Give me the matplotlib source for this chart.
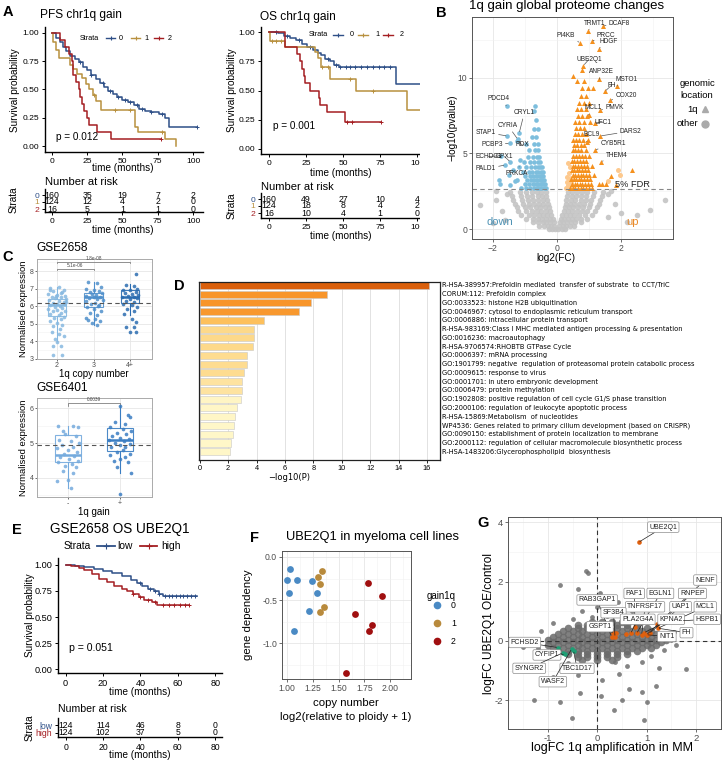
import numpy as np
import matplotlib
matplotlib.use("Agg")
import matplotlib.pyplot as plt
from matplotlib.lines import Line2D
from matplotlib.patches import Rectangle
from matplotlib.ticker import FormatStrFormatter, MultipleLocator

plt.rcParams['font.family'] = ['Liberation Sans', 'DejaVu Sans']

# ======================= DATA =======================
# --- Panel A: PFS chr1q gain (Kaplan-Meier step points) ---
pfs_t0 = [0, 3, 6, 8, 10, 13, 16, 19, 22, 25, 28, 31, 34, 37, 40, 43, 46, 50, 54, 58, 62, 66, 70, 76, 80, 83, 103]
pfs_s0 = [1.0, 0.96, 0.92, 0.88, 0.84, 0.80, 0.77, 0.74, 0.70, 0.67, 0.63, 0.59, 0.56, 0.52, 0.49, 0.46, 0.43, 0.41, 0.39, 0.36, 0.33, 0.31, 0.30, 0.28, 0.25, 0.17, 0.17]
pfs_t1 = [0, 1, 3, 5, 13, 15, 18, 21, 24, 26, 29, 31, 35, 59, 61, 80, 88]
pfs_s1 = [1.0, 0.92, 0.85, 0.78, 0.72, 0.68, 0.64, 0.60, 0.55, 0.50, 0.45, 0.40, 0.32, 0.17, 0.12, 0.06, 0.0]
pfs_t2 = [0, 6, 9, 12, 14, 15, 17, 19, 20, 21, 23, 25, 26, 32, 42, 77]
pfs_s2 = [1.0, 0.9375, 0.875, 0.8125, 0.75, 0.625, 0.5625, 0.5, 0.4375, 0.375, 0.3125, 0.25, 0.1875, 0.125, 0.0625, 0.0625]
pfs_c0 = [20, 28, 36, 41, 47, 52, 55, 60, 64, 70, 78, 103]
pfs_c1 = [30, 45, 55, 78]
pfs_c2 = [77]
pfs_risk0 = [160, 35, 19, 7, 2]
pfs_risk1 = [124, 12, 4, 2, 0]
pfs_risk2 = [16, 5, 1, 1, 0]
pfs_p = "p = 0.012"

# --- Panel A: OS chr1q gain ---
os_t0 = [0, 6, 10, 14, 18, 22, 26, 30, 33, 35, 38, 41, 44, 47, 86, 105]
os_s0 = [1.0, 0.99, 0.97, 0.95, 0.93, 0.90, 0.87, 0.85, 0.82, 0.80, 0.77, 0.75, 0.72, 0.70, 0.557, 0.557]
os_t1 = [0, 1, 11, 31, 33, 35, 41, 59, 93, 105]
os_s1 = [1.0, 0.92, 0.875, 0.83, 0.78, 0.70, 0.60, 0.50, 0.33, 0.33]
os_t2 = [0, 10.5, 19, 21, 22, 23.4, 24.5, 27.8, 33.5, 34.6, 39, 51.4, 76]
os_s2 = [1.0, 0.875, 0.8125, 0.75, 0.6875, 0.625, 0.5625, 0.5, 0.4375, 0.375, 0.3125, 0.234, 0.234]
os_c0 = [5, 12, 20, 28, 40, 45, 48, 52, 55, 58, 62, 66, 70, 74, 78, 82, 105]
os_c1 = [2, 5, 8, 36, 40, 55, 70]
os_c2 = [53, 56, 76]
os_risk0 = [160, 49, 27, 10, 4]
os_risk1 = [124, 18, 8, 4, 2]
os_risk2 = [16, 10, 4, 1, 0]
os_p = "p = 0.001"
strata_labels = ['0', '1', '2']
km_ticks = [0, 25, 50, 75, 100]

# --- Panel B: volcano (log2FC, -log10 p) ---
vol_gray_rows = {
    0.05: [-0.25, -0.15, -0.05, 0.05, 0.15, 0.25],
    0.25: [-0.55, -0.4, -0.28, -0.18, -0.08, 0.08, 0.18, 0.28, 0.4, 0.55],
    0.45: [-0.75, -0.58, -0.44, -0.32, -0.2, -0.1, 0.1, 0.2, 0.32, 0.44, 0.58, 0.75],
    0.7: [-0.95, -0.75, -0.6, -0.46, -0.34, -0.22, -0.12, 0.12, 0.22, 0.34, 0.46, 0.6, 0.75, 0.95],
    0.95: [-1.1, -0.88, -0.7, -0.55, -0.42, -0.3, -0.17, 0.17, 0.3, 0.42, 0.55, 0.7, 0.88, 1.1],
    1.2: [-1.2, -0.95, -0.78, -0.62, -0.48, -0.35, -0.22, 0.22, 0.35, 0.48, 0.62, 0.78, 0.95, 1.2],
    1.45: [-1.25, -1.0, -0.82, -0.66, -0.52, -0.38, -0.25, 0.25, 0.38, 0.52, 0.66, 0.82, 1.0, 1.25],
    1.7: [-1.3, -1.05, -0.86, -0.7, -0.55, -0.42, -0.28, 0.28, 0.42, 0.55, 0.7, 0.86, 1.05, 1.3],
    1.95: [-1.35, -1.08, -0.9, -0.74, -0.58, -0.44, -0.3, 0.3, 0.44, 0.58, 0.74, 0.9, 1.08, 1.35],
    2.2: [-1.4, -1.12, -0.92, -0.76, -0.6, -0.46, -0.32, 0.32, 0.46, 0.6, 0.76, 0.92, 1.12, 1.4],
    2.45: [-1.45, -1.15, -0.95, -0.78, -0.62, -0.48, -0.34, 0.34, 0.48, 0.62, 0.78, 0.95, 1.15, 1.45],
}
vol_gray_extra_x = [-2.4, -1.9, -1.7, -1.6, -2.0, -1.55, 1.6, 1.8, 2.0, 2.5, 3.37, 2.2, 1.6, 1.7, 2.9, -1.9]
vol_gray_extra_y = [1.6, 1.9, 1.2, 0.6, 0.4, 2.3, 2.3, 1.7, 1.1, 0.95, 1.93, 0.5, 0.8, 2.5, 1.3, 2.5]
vol_blue_rows = {
    2.75: [-1.1, -0.95, -0.82, -0.72, -0.63, -0.55, -0.48, -0.41, -0.35],
    3.0: [-1.0, -0.86, -0.75, -0.66, -0.58, -0.5, -0.43, -0.37],
    3.25: [-1.25, -0.92, -0.8, -0.7, -0.61, -0.53, -0.46, -0.4],
    3.5: [-0.98, -0.84, -0.73, -0.64, -0.56, -0.48, -0.42],
    3.8: [-1.05, -0.88, -0.76, -0.66, -0.57, -0.5, -0.44],
    4.1: [-0.95, -0.8, -0.68, -0.59, -0.51, -0.46],
    4.45: [-1.02, -0.84, -0.7, -0.6, -0.52],
    4.8: [-0.9, -0.74, -0.62, -0.54],
    5.2: [-0.85, -0.68, -0.57],
    5.6: [-0.95, -0.72, -0.6],
    6.1: [-0.78, -0.64],
    6.6: [-0.7, -0.58],
    7.2: [-0.66],
    7.8: [-0.7],
    8.15: [-0.67],
}
vol_blue_extra_x = [-1.77, -1.8, -1.5, -1.35, -1.3, -1.15, -1.45]
vol_blue_extra_y = [2.97, 3.25, 3.6, 3.9, 3.2, 4.6, 2.9]
vol_tri_rows = {
    2.75: [0.42, 0.5, 0.58, 0.66, 0.74, 0.82, 0.9, 1.0, 1.1],
    3.0: [0.48, 0.56, 0.64, 0.72, 0.8, 0.88, 0.97, 1.08, 1.3, 1.42, 1.52],
    3.3: [0.45, 0.53, 0.61, 0.69, 0.77, 0.85, 0.94, 1.05],
    3.6: [0.5, 0.58, 0.66, 0.74, 0.82, 0.9, 1.0, 1.15],
    3.9: [0.46, 0.54, 0.62, 0.7, 0.78, 0.87, 0.96],
    4.2: [0.5, 0.58, 0.66, 0.75, 0.84, 0.94, 1.1],
    4.5: [0.47, 0.55, 0.64, 0.73, 0.82, 0.92],
    4.85: [0.52, 0.6, 0.69, 0.78, 0.88, 1.0],
    5.2: [0.5, 0.58, 0.67, 0.77, 0.9],
    5.55: [0.55, 0.64, 0.74, 0.86],
    5.9: [0.5, 0.6, 0.7, 0.82, 0.98],
    6.3: [0.56, 0.67, 0.79, 0.92],
    6.7: [0.6, 0.72, 0.85],
    7.1: [0.58, 0.7, 0.84, 1.02],
    7.5: [0.66, 0.8, 0.93],
    7.9: [0.62, 0.76, 0.9],
    8.3: [0.7, 0.85, 1.0],
    8.8: [0.74, 0.9],
    9.3: [0.8, 0.96, 1.12],
    9.8: [0.62, 0.86],
    10.1: [0.52],
    10.5: [0.78],
}
vol_tri_extra_x = [2.34, 1.7, 1.85]
vol_tri_extra_y = [3.91, 3.5, 2.9]
vol_circ_x = [0.3, 0.34, 0.38, 0.33, 0.4, 0.44, 0.37, 0.42, 0.35, 0.45, 0.32, 1.92, 1.98, 1.6, 0.48, 0.36]
vol_circ_y = [2.75, 2.95, 3.2, 3.45, 2.85, 3.05, 3.7, 4.1, 4.4, 3.4, 3.1, 3.9, 3.55, 3.2, 2.7, 2.7]
up_genes = ['TRMT1', 'DCAF8', 'PI4KB', 'PRCC', 'HDGF', 'UBE2Q1', 'ANP32E', 'MSTO1', 'FH', 'COX20',
            'MCL1', 'PMVK', 'UFC1', 'DARS2', 'BCL9', 'CYB5R1', 'THEM4']
up_x = [0.97, 1.43, 0.73, 1.09, 1.30, 0.83, 1.33, 1.87, 1.5, 1.66, 0.99, 1.35, 1.19, 1.35, 0.93, 1.19, 1.38]
up_y = [13.1, 13.4, 12.3, 12.4, 11.9, 10.8, 9.9, 9.45, 9.1, 8.5, 7.54, 7.87, 7.03, 6.15, 5.78, 5.23, 4.46]
down_genes = ['PDCD4', 'CRYL1', 'CYRIA', 'STAP1', 'PCBP3', 'RDX', 'ECHDC1', 'GPX1', 'PALD1', 'PRKCA']
down_x = [-1.54, -1.17, -1.22, -1.54, -1.47, -1.25, -1.75, -1.45, -1.61, -1.17]
down_y = [8.1, 6.35, 5.95, 6.15, 5.67, 5.85, 4.85, 4.45, 4.24, 4.13]
fdr_line = 2.64

# --- Panel C: GSE2658 by 1q copy number ---
c1_groups = ['2', '3', '4+']
c1_g2_dx = [-0.2, 0.05, 0.2, -0.1, 0.15, -0.25, 0.0, 0.22, -0.15, 0.1, -0.05, 0.25, -0.22, 0.05, 0.18, -0.12, 0.0, 0.2, -0.2, 0.08, -0.05, 0.15, -0.25, 0.0, 0.22, -0.1, 0.1, -0.18, 0.05, 0.2, -0.08, 0.12, -0.2, 0.0, 0.15, -0.1, 0.08, -0.15, 0.05, 0.18, -0.05, 0.0, -0.12, 0.1, -0.1, 0.15, -0.2, 0.12, -0.02, 0.24]
c1_g2_y = [7.05, 7.1, 6.95, 6.85, 6.8, 6.7, 6.65, 6.6, 6.55, 6.5, 6.45, 6.4, 6.35, 6.3, 6.25, 6.2, 6.15, 6.1, 6.05, 6.0, 5.95, 5.9, 5.85, 5.8, 5.75, 5.7, 5.6, 5.55, 5.5, 5.4, 5.35, 5.25, 5.15, 5.05, 4.95, 4.85, 4.7, 4.55, 4.4, 4.3, 4.15, 3.95, 3.75, 3.7, 3.2, 3.2, 6.9, 6.75, 6.58, 6.22]
c1_g3_dx = [-0.15, 0.1, 0.2, -0.2, 0.0, 0.15, -0.1, 0.22, -0.05, 0.08, -0.2, 0.18, 0.0, -0.12, 0.1, 0.25, -0.22, 0.05, -0.08, 0.15, -0.18, 0.02, 0.2, -0.1, 0.1, -0.2, 0.05, 0.18, -0.05, 0.1, -0.15, 0.12]
c1_g3_y = [7.4, 7.3, 7.1, 7.0, 6.95, 6.85, 6.8, 6.75, 6.7, 6.65, 6.6, 6.55, 6.5, 6.45, 6.4, 6.35, 6.3, 6.2, 6.1, 6.05, 5.95, 5.85, 5.75, 5.6, 5.5, 5.35, 5.25, 5.15, 5.05, 4.95, 5.2, 6.0]
c1_g4_dx = [0.15, -0.1, 0.1, 0.2, -0.2, 0.0, 0.15, -0.15, 0.05, 0.22, -0.05, 0.1, -0.22, 0.18, 0.0, -0.12, 0.12, -0.2, 0.05, 0.2, -0.08, 0.1, -0.18, 0.05, 0.15, -0.1, 0.1, 0.0, 0.15]
c1_g4_y = [7.85, 7.2, 7.15, 7.0, 6.95, 6.9, 6.8, 6.75, 6.7, 6.65, 6.6, 6.55, 6.5, 6.45, 6.4, 6.3, 6.25, 6.15, 6.05, 5.95, 5.85, 5.7, 5.55, 5.25, 5.1, 4.8, 4.8, 4.5, 4.5]
c1_q1 = [5.45, 5.97, 6.2]
c1_med = [6.05, 6.5, 6.55]
c1_q3 = [6.43, 6.77, 6.9]
c1_lo = [4.0, 4.95, 5.5]
c1_hi = [7.1, 7.4, 7.25]
c1_ref = 6.2
c1_pvals = ['5.1e-06', '1.8e-08']

# --- Panel C: GSE6401 by 1q gain ---
c2_groups = ['-', '+']
c2_neg_dx = [-0.2, 0.1, 0.2, -0.1, -0.05, 0.15, -0.18, 0.05, 0.22, -0.12, 0.1, -0.22, 0.0, 0.18, -0.08, 0.12, -0.15, 0.02, 0.2, -0.2, 0.08, -0.05, 0.15, -0.1, 0.1, -0.22, 0.0, 0.05]
c2_neg_y = [5.5, 5.5, 5.45, 5.35, 5.25, 5.2, 5.1, 5.05, 5.0, 4.95, 4.9, 4.85, 4.8, 4.75, 4.7, 4.62, 4.6, 4.55, 4.5, 4.45, 4.4, 4.35, 4.3, 4.2, 4.15, 3.9, 3.95, 3.7]
c2_pos_dx = [0.0, 0.15, 0.2, -0.1, 0.1, -0.2, 0.05, 0.22, -0.05, 0.12, -0.15, 0.0, 0.18, -0.22, 0.08, -0.1, 0.2, 0.0, -0.18, 0.1, 0.05, -0.05, 0.2, -0.2, 0.1, 0.0, -0.12, 0.15, 0.22, -0.05, 0.0]
c2_pos_y = [6.05, 5.8, 5.75, 5.6, 5.55, 5.45, 5.4, 5.35, 5.3, 5.25, 5.2, 5.15, 5.12, 5.1, 5.05, 5.0, 4.98, 4.95, 4.9, 4.88, 4.8, 4.75, 4.7, 4.65, 4.6, 4.55, 4.5, 4.45, 4.15, 4.3, 3.55]
c2_q1 = [4.45, 4.78]
c2_med = [4.67, 5.1]
c2_q3 = [5.22, 5.42]
c2_lo = [3.7, 4.15]
c2_hi = [5.5, 6.05]
c2_ref = 4.93
c2_pval = '0.0039'

# --- Panel D: enrichment ---
d_terms = [
    "R-HSA-389957:Prefoldin mediated  transfer of substrate  to CCT/TriC",
    "CORUM:112: Prefoldin complex",
    "GO:0033523: histone H2B ubiquitination",
    "GO:0046967: cytosol to endoplasmic reticulum transport",
    "GO:0006886: intracellular protein transport",
    "R-HSA-983169:Class I MHC mediated antigen processing & presentation",
    "GO:0016236: macroautophagy",
    "R-HSA-9706574:RHOBTB GTPase Cycle",
    "GO:0006397: mRNA processing",
    "GO:1901799: negative  regulation of proteasomal protein catabolic process",
    "GO:0009615: response to virus",
    "GO:0001701: in utero embryonic development",
    "GO:0006479: protein methylation",
    "GO:1902808: positive regulation of cell cycle G1/S phase transition",
    "GO:2000106: regulation of leukocyte apoptotic process",
    "R-HSA-15869:Metabolism  of nucleotides",
    "WP4536: Genes related to primary cilium development (based on CRISPR)",
    "GO:0090150: establishment of protein localization to membrane",
    "GO:2000112: regulation of cellular macromolecule biosynthetic process",
    "R-HSA-1483206:Glycerophospholipid  biosynthesis",
]
d_values = [16.17, 8.96, 7.84, 6.99, 4.5, 3.8, 3.8, 3.78, 3.31, 3.31, 3.12, 2.98, 2.98, 2.93, 2.65, 2.46, 2.39, 2.32, 2.18, 2.11]

# --- Panel E: GSE2658 OS UBE2Q1 ---
e_t_low = [0, 5, 10, 15, 20, 25, 30, 35, 38, 41, 44, 47, 50, 52, 70]
e_s_low = [1.0, 0.99, 0.98, 0.96, 0.94, 0.92, 0.89, 0.86, 0.83, 0.80, 0.77, 0.75, 0.72, 0.70, 0.70]
e_t_high = [0, 3, 7, 10, 14, 18, 22, 26, 30, 33, 36, 39, 42, 46, 49, 66]
e_s_high = [1.0, 0.99, 0.97, 0.95, 0.91, 0.87, 0.84, 0.80, 0.77, 0.75, 0.72, 0.69, 0.665, 0.64, 0.615, 0.615]
e_c_low = [40, 45, 48, 50, 53, 55, 57, 59, 61, 63, 65, 67, 69]
e_c_high = [36, 40, 44, 48, 52, 55, 58, 61, 64, 66]
e_risk_low = [124, 114, 46, 8, 0]
e_risk_high = [124, 102, 37, 5, 0]
e_ticks = [0, 20, 40, 60, 80]
e_p = "p = 0.051"

# --- Panel F: UBE2Q1 in myeloma cell lines ---
f_gain = [0, 0, 0, 0, 0, 0, 0, 0, 1, 1, 1, 1, 1, 2, 2, 2, 2, 2, 2]
f_cn = [1.032, 1.0, 1.097, 1.242, 1.023, 1.29, 1.216, 1.065, 1.34, 1.297, 1.32, 1.361, 1.323, 1.784, 1.92, 1.661, 1.823, 1.797, 1.574]
f_dep = [-0.137, -0.269, -0.269, -0.277, -0.423, -0.423, -0.626, -0.857, -0.16, -0.23, -0.31, -0.577, -0.638, -0.30, -0.453, -0.661, -0.784, -0.86, -1.345]

# --- Panel G: logFC OE vs logFC amplification ---
g_cloud_rows = {
    0.65: [-0.1, 0.1, 0.3, 0.5],
    0.55: [-0.4, -0.2, 0.0, 0.2, 0.4, 0.6, 0.8],
    0.45: [-0.6, -0.4, -0.2, 0.0, 0.2, 0.4, 0.6, 0.8, 1.0],
    0.35: [-0.7, -0.5, -0.3, -0.1, 0.1, 0.3, 0.5, 0.7, 0.9, 1.1],
    0.25: [-0.8, -0.6, -0.4, -0.2, 0.0, 0.2, 0.4, 0.6, 0.8, 1.0, 1.2],
    0.15: [-0.9, -0.7, -0.5, -0.3, -0.1, 0.1, 0.3, 0.5, 0.7, 0.9, 1.1, 1.3],
    0.05: [-1.0, -0.8, -0.6, -0.4, -0.2, 0.0, 0.2, 0.4, 0.6, 0.8, 1.0, 1.2, 1.4],
    -0.05: [-0.9, -0.7, -0.5, -0.3, -0.1, 0.1, 0.3, 0.5, 0.7, 0.9, 1.1, 1.3],
    -0.15: [-1.0, -0.8, -0.6, -0.4, -0.2, 0.0, 0.2, 0.4, 0.6, 0.8, 1.0, 1.2],
    -0.25: [-0.9, -0.7, -0.5, -0.3, -0.1, 0.1, 0.3, 0.5, 0.7, 0.9, 1.1],
    -0.35: [-0.8, -0.6, -0.4, -0.2, 0.0, 0.2, 0.4, 0.6, 0.8],
    -0.45: [-0.6, -0.4, -0.2, 0.0, 0.2, 0.4, 0.6],
    -0.55: [-0.4, -0.2, 0.0, 0.2, 0.4],
    -0.65: [-0.3, 0.0, 0.3],
}
g_extra_x = [-1.3, -1.2, -1.15, 1.55, 1.6, 1.5, -0.5, 0.2, 0.6, -0.2, 0.9, -0.9, 1.3, 0.0, -0.3, 0.45, -0.6, 1.1, -1.05, 0.1, 0.7, -0.1, 0.35, -0.4, 1.35,
             -0.22, -0.18, -0.76, -0.4, 0.05, -0.1, 0.42, -1.28, 0.95, -0.52, 1.80, 1.2, -1.5, -0.76, -0.35, 0.08, 1.25, 0.34, 0.65, -0.9, 1.0, -1.6, 0.9, 0.5]
g_extra_y = [0.05, -0.25, 0.35, 0.3, -0.15, 0.05, 0.75, 0.85, -0.85, -0.85, -0.7, 0.6, 0.75, 1.15, 1.0, -1.1, -0.75, -0.5, -0.5, -1.3, 1.0, 0.8, -0.7, -1.15, -0.3,
             2.36, 2.28, 1.88, 1.75, 1.6, 1.4, 1.3, -1.99, -2.65, -2.6, -0.93, -1.5, -0.2, -2.04, -1.75, -1.85, -0.9, -2.33, -1.6, -1.2, -2.05, 0.05, -1.7, -2.0]
g_up_x = [0.84, 0.29, 0.36, 0.31, 0.38, 0.585, 0.68, 0.768, 0.80, 0.90, 0.95, 1.0, 1.06, 1.21, 1.23, 1.72]
g_up_y = [3.32, 0.15, 0.15, 0.28, 0.27, 0.22, 0.26, 0.48, 0.26, 0.21, 0.28, 0.21, 0.26, 0.56, 0.43, 0.68]
g_up_genes = ['UBE2Q1', 'NENF', 'PAF1', 'EGLN1', 'RNPEP', 'RAB3GAP1', 'TNFRSF17', 'UAP1', 'MCL1', 'SF3B4',
              'PLA2G4A', 'KPNA2', 'HSPB1', 'GSPT1', 'FH', 'NIT1']
g_up_gx = [0.84, 1.21, 0.768, 0.80, 1.0, 0.29, 0.90, 1.06, 1.23, 0.36, 0.68, 0.95, 1.72, 0.31, 1.23, 1.0]
g_up_gy = [3.32, 0.56, 0.48, 0.26, 0.21, 0.15, 0.21, 0.26, 0.43, 0.15, 0.26, 0.28, 0.68, 0.28, 0.43, 0.21]
g_up_lx = [1.34, 2.19, 0.75, 1.28, 1.93, 0.0, 0.97, 1.69, 2.19, 0.33, 0.82, 1.5, 2.23, 0.055, 1.81, 1.41]
g_up_ly = [3.83, 2.05, 1.6, 1.6, 1.6, 1.38, 1.15, 1.15, 1.15, 0.95, 0.73, 0.73, 0.73, 0.48, 0.28, 0.15]
g_dn_genes = ['FCHSD2', 'CYFIP1', 'SYNGR2', 'TBC1D17', 'WASF2']
g_dn_x = [-0.80, -0.66, -0.70, -0.48, -0.52]
g_dn_y = [-0.22, -0.45, -0.40, -0.33, -0.27]
g_dn_lx = [-1.47, -1.02, -1.38, -0.41, -0.9]
g_dn_ly = [-0.05, -0.47, -0.92, -0.92, -1.37]

# ======================= STYLE =======================
KM_COLS = ['#2E4F87', '#B8913F', '#A41E22']
E_COLS = ['#2E4F87', '#A41E22']
C1_COLS = ['#86B8E0', '#4F8FCB', '#2B6CB0']
C2_COLS = ['#74AADD', '#3A7DC2']
D_COLS = ['#DA5F0B', '#F8952A', '#F8952A', '#F8982E', '#FDC05C', '#FDD98A', '#FDD98A', '#FDD98A',
          '#FEDC90', '#FEDC90', '#FEDC90', '#FEE3A0', '#FEE3A0', '#FFF5C4', '#FFF6C6', '#FFF6C6',
          '#FFF7C8', '#FFF7C8', '#FFF7C8', '#FFF7C8']
F_COLS = {0: '#4A8AC4', 1: '#B88A3C', 2: '#A00F10'}

W, H = 722, 761
fig = plt.figure(figsize=(W / 100, H / 100), dpi=100)
fig.patch.set_facecolor('white')


def add_ax(l, t, r, b):
    return fig.add_axes([l / W, 1 - b / H, (r - l) / W, (b - t) / H])


def ftext(x, y, s, **kw):
    kw.setdefault('ha', 'left')
    kw.setdefault('va', 'center')
    return fig.text(x / W, 1 - y / H, s, **kw)


def fline(xs, ys, **kw):
    fig.add_artist(Line2D([x / W for x in xs], [1 - y / H for y in ys],
                          transform=fig.transFigure, **kw))


def km_curve(ax, t, s, col, cens):
    ax.step(t, s, where='post', color=col, lw=1.1)
    ta = np.asarray(t)
    sa = np.asarray(s)
    idx = np.searchsorted(ta, cens, side='right') - 1
    ax.plot(cens, sa[idx], ls='none', marker='+', color=col, ms=3.2, mew=0.7)


def km_axes(ax, xlim, ylim, xticks, fs=6.1):
    ax.set_xlim(*xlim)
    ax.set_ylim(*ylim)
    ax.spines[['top', 'right']].set_visible(False)
    ax.spines[['left', 'bottom']].set_linewidth(1.0)
    ax.set_xticks(xticks)
    ax.set_yticks([0, 0.25, 0.5, 0.75, 1.0])
    ax.yaxis.set_major_formatter(FormatStrFormatter('%.2f'))
    ax.tick_params(labelsize=fs, length=2.5, width=0.7, pad=1.5)


def risk_axes(ax, xlim, xticks, rows_y, counts, labels, cols, fs_num=6.3, fs_tick=6.1):
    ax.set_xlim(*xlim)
    ax.set_ylim(0, 1)
    ax.spines[['top', 'right']].set_visible(False)
    ax.spines[['left', 'bottom']].set_linewidth(1.0)
    ax.set_xticks(xticks)
    ax.set_yticks(rows_y)
    ax.set_yticklabels(labels)
    for lab, c in zip(ax.get_yticklabels(), cols):
        lab.set_color(c)
    ax.tick_params(labelsize=fs_tick, length=2.5, width=0.7, pad=1.5)
    for yv, row in zip(rows_y, counts):
        for t, n in zip(xticks, row):
            ax.text(t, yv, str(n), ha='center', va='center', fontsize=fs_num)


def km_legend(y, title_x, items, fs, lw=1.0, ms=3):
    ftext(title_x, y, 'Strata', fontsize=fs, ha='center')
    for x0, x1, lx, lab, col in items:
        fline([x0, x1], [y, y], color=col, lw=lw)
        fline([(x0 + x1) / 2], [y], marker='+', color=col, ms=ms, mew=0.8, ls='none')
        ftext(lx, y, lab, fontsize=fs, ha='left')


def bw_axes(ax, fs=6.0):
    ax.set_facecolor('white')
    ax.grid(True, which='major', color='#E6E6E6', lw=0.6)
    ax.grid(True, which='minor', color='#F1F1F1', lw=0.4)
    ax.set_axisbelow(True)
    for s in ax.spines.values():
        s.set_color('#555555')
        s.set_linewidth(0.7)
    ax.tick_params(which='both', labelsize=fs, length=2, width=0.5, pad=1.5,
                   colors='#333333', labelcolor='#4D4D4D')
    ax.tick_params(which='minor', length=0)


def rows_to_xy(rows):
    xs, ys = [], []
    for yv, xl in rows.items():
        xs += xl
        ys += [yv] * len(xl)
    return xs, ys


# ======================= PANEL A: PFS =======================
axP = add_ax(45, 27, 203, 152)
km_axes(axP, (-4.96, 107.1), (-0.053, 1.053), km_ticks)
for t, s, c, cz in zip([pfs_t0, pfs_t1, pfs_t2], [pfs_s0, pfs_s1, pfs_s2], KM_COLS, [pfs_c0, pfs_c1, pfs_c2]):
    km_curve(axP, t, s, c, cz)
axP.text(3, 0.08, pfs_p, fontsize=7.2, ha='left', va='center')
ftext(40, 15, 'PFS chr1q gain', fontsize=8.6)
ftext(15, 90, 'Survival probability', fontsize=7.2, rotation=90, ha='center')
ftext(123, 168, 'time (months)', fontsize=7.2, ha='center')
km_legend(38, 89, [(106, 115, 119, '0', KM_COLS[0]), (131, 140, 144, '1', KM_COLS[1]),
                   (154, 163, 168, '2', KM_COLS[2])], fs=5.2)
ftext(45, 182, 'Number at risk', fontsize=8.0)
axPr = add_ax(45, 189, 203, 212)
risk_axes(axPr, (-4.96, 107.1), km_ticks, [0.739, 0.435, 0.13],
          [pfs_risk0, pfs_risk1, pfs_risk2], strata_labels, KM_COLS)
ftext(14, 200, 'Strata', fontsize=7.2, rotation=90, ha='center')
ftext(123, 230, 'time (months)', fontsize=7.2, ha='center')

# ======================= PANEL A: OS =======================
axO = add_ax(261, 27, 425, 154)
km_axes(axO, (-5.4, 105.4), (-0.043, 1.043), km_ticks)
for t, s, c, cz in zip([os_t0, os_t1, os_t2], [os_s0, os_s1, os_s2], KM_COLS, [os_c0, os_c1, os_c2]):
    km_curve(axO, t, s, c, cz)
axO.text(3, 0.2, os_p, fontsize=7.2, ha='left', va='center')
ftext(260, 17, 'OS chr1q gain', fontsize=8.6)
ftext(232, 90, 'Survival probability', fontsize=7.2, rotation=90, ha='center')
ftext(341, 173, 'time (months)', fontsize=7.2, ha='center')
km_legend(35, 318, [(333, 343, 350, '0', KM_COLS[0]), (358, 368, 375, '1', KM_COLS[1]),
                    (383, 393, 400, '2', KM_COLS[2])], fs=5.2)
ftext(261, 187, 'Number at risk', fontsize=8.0)
axOr = add_ax(261, 193, 425, 218)
risk_axes(axOr, (-5.4, 105.4), km_ticks, [0.76, 0.48, 0.2],
          [os_risk0, os_risk1, os_risk2], strata_labels, KM_COLS)
ftext(232, 206, 'Strata', fontsize=7.2, rotation=90, ha='center')
ftext(341, 236, 'time (months)', fontsize=7.2, ha='center')

# white mask (panel B region overlaps clipped OS plot)
fig.add_artist(Rectangle((420 / W, 1 - 245 / H), (W - 420) / W, 245 / H,
                         transform=fig.transFigure, fc='white', ec='none', zorder=1))

# ======================= PANEL B: volcano =======================
axB = add_ax(472, 17, 673, 239)
axB.set_zorder(2)
bw_axes(axB, fs=6.2)
axB.set_xlim(-2.64, 3.62)
axB.set_ylim(-0.64, 14.0)
axB.set_xticks([-2, 0, 2])
axB.set_yticks([0, 5, 10])
axB.xaxis.set_minor_locator(MultipleLocator(1))
axB.yaxis.set_minor_locator(MultipleLocator(2.5))

gx, gy = rows_to_xy(vol_gray_rows)
axB.scatter(gx + vol_gray_extra_x, gy + vol_gray_extra_y, s=16, c='#C4C4C4', lw=0, alpha=0.9)
bx, by = rows_to_xy(vol_blue_rows)
axB.scatter(bx + vol_blue_extra_x + down_x, by + vol_blue_extra_y + down_y, s=11, c='#7DBEDD', lw=0)
axB.scatter(vol_circ_x, vol_circ_y, s=13, c='#FDC98E', lw=0)
tx, ty = rows_to_xy(vol_tri_rows)
axB.scatter(tx + vol_tri_extra_x + up_x, ty + vol_tri_extra_y + up_y, s=13, c='#F5911E', marker='^', lw=0)
axB.axhline(fdr_line, color='#888888', lw=0.8, ls=(0, (4, 3)))
axB.text(2.36, 2.95, '5% FDR', fontsize=6.7, ha='center', va='center', color='#222222')
axB.text(-1.77, 0.5, 'down', fontsize=8, color='#4F93B5', ha='center', va='center')
axB.text(2.35, 0.5, 'up', fontsize=8, color='#E88A2A', ha='center', va='center')

up_lx = [1.19, 1.95, 0.28, 1.54, 1.61, 1.0, 1.40, 2.18, 1.71, 2.16, 1.14, 1.80, 1.43, 2.30, 1.09, 1.77, 1.87]
up_ly = [13.6, 13.6, 12.8, 12.8, 12.4, 11.2, 10.4, 9.9, 9.5, 8.84, 8.0, 8.0, 7.05, 6.48, 6.22, 5.63, 4.86]
dn_lx = [-1.82, -1.01, -1.52, -2.21, -2.02, -1.07, -2.13, -1.63, -2.21, -1.25]
dn_ly = [8.6, 7.69, 6.84, 6.40, 5.6, 5.56, 4.8, 4.8, 3.98, 3.69]
for g, px, py, lx, ly in zip(up_genes + down_genes, up_x + down_x, up_y + down_y, up_lx + dn_lx, up_ly + dn_ly):
    axB.annotate(g, xy=(px, py), xytext=(lx, ly), fontsize=4.7, ha='center', va='center', color='#222222',
                 arrowprops=dict(arrowstyle='-', lw=0.5, color='#555555', shrinkA=0, shrinkB=1))
ftext(567, 6, '1q gain global proteome changes', fontsize=9.5, ha='center')
ftext(556, 258, 'log2(FC)', fontsize=7.2, ha='center')
ftext(452, 128, '\u2212log10(pvalue)', fontsize=7.2, rotation=90, ha='center')
ftext(697, 84, 'genomic', fontsize=6.8, ha='center')
ftext(697, 95, 'location', fontsize=6.8, ha='center')
ftext(698, 109, '1q', fontsize=6.8, ha='right')
ftext(698, 124, 'other', fontsize=6.8, ha='right')
fline([705], [109], marker='^', color='#AAAAAA', ms=5, ls='none')
fline([705], [124], marker='o', color='#AAAAAA', ms=5, ls='none')


# ======================= PANEL C =======================
def box_panel(ax, positions, q1, med, q3, lo, hi, cols, pts, ref):
    stats = [dict(med=m, q1=a, q3=b, whislo=l, whishi=h, fliers=[]) for a, m, b, l, h in zip(q1, med, q3, lo, hi)]
    res = ax.bxp(stats, positions=positions, widths=0.5, showfliers=False, showcaps=False, patch_artist=True)
    for i, c in enumerate(cols):
        res['boxes'][i].set(facecolor='white', edgecolor=c, lw=0.8, alpha=0.9)
        res['medians'][i].set(color=c, lw=1.8)
        res['whiskers'][2 * i].set(color=c, lw=0.8)
        res['whiskers'][2 * i + 1].set(color=c, lw=0.8)
    for pos, (dx, yv), c in zip(positions, pts, cols):
        ax.scatter([pos + d for d in dx], yv, s=7, c=c, lw=0, alpha=0.85, zorder=3)
    ax.axhline(ref, color='#555555', lw=0.8, ls=(0, (4, 3)), zorder=4)


axC1 = add_ax(37, 259, 152, 359)
bw_axes(axC1, fs=5.0)
axC1.tick_params(which='major', length=1.5, pad=0.8)
for s in axC1.spines.values():
    s.set_color('#AAAAAA')
axC1.set_xlim(0.452, 3.6)
axC1.set_ylim(2.98, 8.7)
box_panel(axC1, [1, 2, 3], c1_q1, c1_med, c1_q3, c1_lo, c1_hi, C1_COLS,
          [(c1_g2_dx, c1_g2_y), (c1_g3_dx, c1_g3_y), (c1_g4_dx, c1_g4_y)], c1_ref)
axC1.set_xticks([1, 2, 3])
axC1.set_xticklabels(c1_groups)
axC1.set_yticks([3, 4, 5, 6, 7, 8])
axC1.yaxis.set_minor_locator(MultipleLocator(0.5))
axC1.plot([1, 1, 2, 2], [8.05, 8.13, 8.13, 8.05], color='#666666', lw=0.5)
axC1.text(1.5, 8.17, c1_pvals[0], fontsize=3.4, ha='center', va='bottom', color='#444444')
axC1.plot([1, 1, 3, 3], [8.45, 8.53, 8.53, 8.45], color='#666666', lw=0.5)
axC1.text(2.0, 8.56, c1_pvals[1], fontsize=3.4, ha='center', va='bottom', color='#444444')
ftext(36, 248, 'GSE2658', fontsize=8.6)
ftext(24, 309, 'Normalised expression', fontsize=6.8, rotation=90, ha='center')
ftext(94, 374, '1q copy number', fontsize=7.0, ha='center')

axC2 = add_ax(37, 398, 152, 497)
bw_axes(axC2, fs=5.0)
axC2.tick_params(which='major', length=1.5, pad=0.8)
for s in axC2.spines.values():
    s.set_color('#AAAAAA')
axC2.set_xlim(0.404, 2.615)
axC2.set_ylim(3.457, 6.286)
box_panel(axC2, [1, 2], c2_q1, c2_med, c2_q3, c2_lo, c2_hi, C2_COLS,
          [(c2_neg_dx, c2_neg_y), (c2_pos_dx, c2_pos_y)], c2_ref)
axC2.set_xticks([1, 2])
axC2.set_xticklabels(c2_groups)
axC2.set_yticks([4, 5, 6])
axC2.yaxis.set_minor_locator(MultipleLocator(0.5))
axC2.plot([1, 1, 2, 2], [6.05, 6.13, 6.13, 6.05], color='#666666', lw=0.5)
axC2.text(1.5, 6.16, c2_pval, fontsize=3.4, ha='center', va='bottom', color='#444444')
ftext(36, 388, 'GSE6401', fontsize=8.6)
ftext(24, 448, 'Normalised expression', fontsize=6.8, rotation=90, ha='center')
ftext(94, 512, '1q gain', fontsize=7.0, ha='center')

# ======================= PANEL D =======================
axD = add_ax(199, 282, 440, 460)
ypos = np.arange(len(d_values))
axD.barh(ypos, d_values, height=0.8, color=D_COLS, edgecolor='#C8C8C8', lw=0.4, zorder=2)
axD.set_xlim(-0.05, 16.92)
axD.set_ylim(19.94, -0.377)
axD.set_yticks([])
axD.set_xticks(range(0, 17, 2))
axD.grid(True, axis='x', color='#DDDDDD', lw=0.6, zorder=0)
axD.set_axisbelow(True)
for s in axD.spines.values():
    s.set_color('#222222')
    s.set_linewidth(0.9)
axD.tick_params(axis='x', labelsize=5.3, length=2, width=0.6, pad=1.5)
for i, t in enumerate(d_terms):
    axD.text(1.008, i, t, transform=axD.get_yaxis_transform(), fontsize=4.75, ha='left', va='center',
             family=['DejaVu Sans'], clip_on=False)
ftext(289, 477, '\u2212log10(P)', fontsize=6.0, ha='center', family=['DejaVu Sans'])

# ======================= PANEL E =======================
axE = add_ax(58, 558, 222, 673)
km_axes(axE, (-4.1, 83.6), (-0.038, 1.067), e_ticks, fs=6.6)
km_curve(axE, e_t_low, e_s_low, E_COLS[0], e_c_low)
km_curve(axE, e_t_high, e_s_high, E_COLS[1], e_c_high)
axE.text(2, 0.2, e_p, fontsize=7.6, ha='left', va='center')
ftext(120, 529, 'GSE2658 OS UBE2Q1', fontsize=9.8, ha='center')
km_legend(546, 77, [(97, 115, 117, 'low', E_COLS[0]), (140, 157, 161, 'high', E_COLS[1])],
          fs=7.4, lw=1.3, ms=4)
ftext(30, 615, 'Survival probability', fontsize=7.2, rotation=90, ha='center')
ftext(140, 692, 'time (months)', fontsize=7.2, ha='center')
ftext(58, 709, 'Number at risk', fontsize=7.6)
axEr = add_ax(58, 718, 222, 737)
risk_axes(axEr, (-4.1, 83.6), e_ticks, [0.63, 0.23], [e_risk_low, e_risk_high],
          ['low', 'high'], E_COLS, fs_num=6.2, fs_tick=6.2)
ftext(30, 728, 'Strata', fontsize=7.2, rotation=90, ha='center')
ftext(140, 755, 'time (months)', fontsize=7.2, ha='center')

# ======================= PANEL F =======================
axF = add_ax(282, 551, 411, 679)
bw_axes(axF, fs=6.2)
axF.set_xlim(0.952, 2.2)
axF.set_ylim(-1.414, 0.069)
axF.set_xticks([1.0, 1.25, 1.5, 1.75, 2.0])
axF.xaxis.set_major_formatter(FormatStrFormatter('%.2f'))
axF.set_yticks([0.0, -0.5, -1.0])
axF.yaxis.set_major_formatter(FormatStrFormatter('%.1f'))
axF.xaxis.set_minor_locator(MultipleLocator(0.125))
axF.yaxis.set_minor_locator(MultipleLocator(0.25))
for g in [0, 1, 2]:
    xs = [x for x, gg in zip(f_cn, f_gain) if gg == g]
    ys = [y for y, gg in zip(f_dep, f_gain) if gg == g]
    axF.scatter(xs, ys, s=24, c=F_COLS[g], lw=0, zorder=3)
ftext(372, 537, 'UBE2Q1 in myeloma cell lines', fontsize=9.3, ha='center')
ftext(346, 703, 'copy number', fontsize=8.2, ha='center')
ftext(346, 717, 'log2(relative to ploidy + 1)', fontsize=8.2, ha='center')
ftext(248, 615, 'gene dependency', fontsize=8.2, rotation=90, ha='center')
ftext(427, 596, 'gain1q', fontsize=7.0)
for g, yy in zip([0, 1, 2], [605, 623, 641]):
    fline([437], [yy], marker='o', color=F_COLS[g], ms=4.5, ls='none')
    ftext(451, yy, str(g), fontsize=6.3)

# ======================= PANEL G =======================
axG = add_ax(508, 517, 721, 729)
bw_axes(axG, fs=6.8)
axG.set_xlim(-1.81, 2.51)
axG.set_ylim(-2.96, 4.17)
axG.set_xticks([-1, 0, 1, 2])
axG.set_xticklabels(['-1', '0', '1', '2'])
axG.set_yticks([-2, 0, 2, 4])
axG.set_yticklabels(['-2', '0', '2', '4'])
axG.xaxis.set_minor_locator(MultipleLocator(0.5))
axG.yaxis.set_minor_locator(MultipleLocator(1))
cx, cy = rows_to_xy(g_cloud_rows)
axG.scatter(cx, cy, s=30, c='#6A6A6A', lw=0, alpha=0.85, zorder=2)
axG.scatter(g_extra_x, g_extra_y, s=12, c='#6E6E6E', lw=0, alpha=0.85, zorder=2)
axG.axvline(0, color='#333333', lw=0.8, ls=(0, (4, 3)), zorder=3)
axG.axhline(0, color='#333333', lw=0.8, ls=(0, (4, 3)), zorder=3)
axG.scatter(g_up_x, g_up_y, s=11, c='#E0600E', lw=0, zorder=4)
axG.scatter(g_dn_x, g_dn_y, s=11, c='#1E9E74', lw=0, zorder=4)
bbox_kw = dict(boxstyle='round,pad=0.25,rounding_size=0.2', fc='white', ec='#8C8C8C', lw=0.5)
for g, px, py, lx, ly in zip(g_up_genes + g_dn_genes, g_up_gx + g_dn_x, g_up_gy + g_dn_y,
                             g_up_lx + g_dn_lx, g_up_ly + g_dn_ly):
    axG.annotate(g, xy=(px, py), xytext=(lx, ly), fontsize=5.0, ha='center', va='center', color='#222222',
                 bbox=bbox_kw, zorder=5,
                 arrowprops=dict(arrowstyle='-', lw=0.5, color='#222222', shrinkA=0, shrinkB=1))
ftext(612, 748, 'logFC 1q amplification in MM', fontsize=9.0, ha='center')
ftext(489, 623, 'logFC UBE2Q1 OE/control', fontsize=8.6, rotation=90, ha='center')

# ======================= PANEL LETTERS =======================
for lab, x, y in [('A', 8, 12), ('B', 441, 13), ('C', 8, 257), ('D', 179, 286),
                  ('E', 17, 530), ('F', 254, 538), ('G', 483, 523)]:
    ftext(x, y, lab, fontsize=10.5, fontweight='bold', ha='center')

fig.savefig('out.png', dpi=100, facecolor='white')
